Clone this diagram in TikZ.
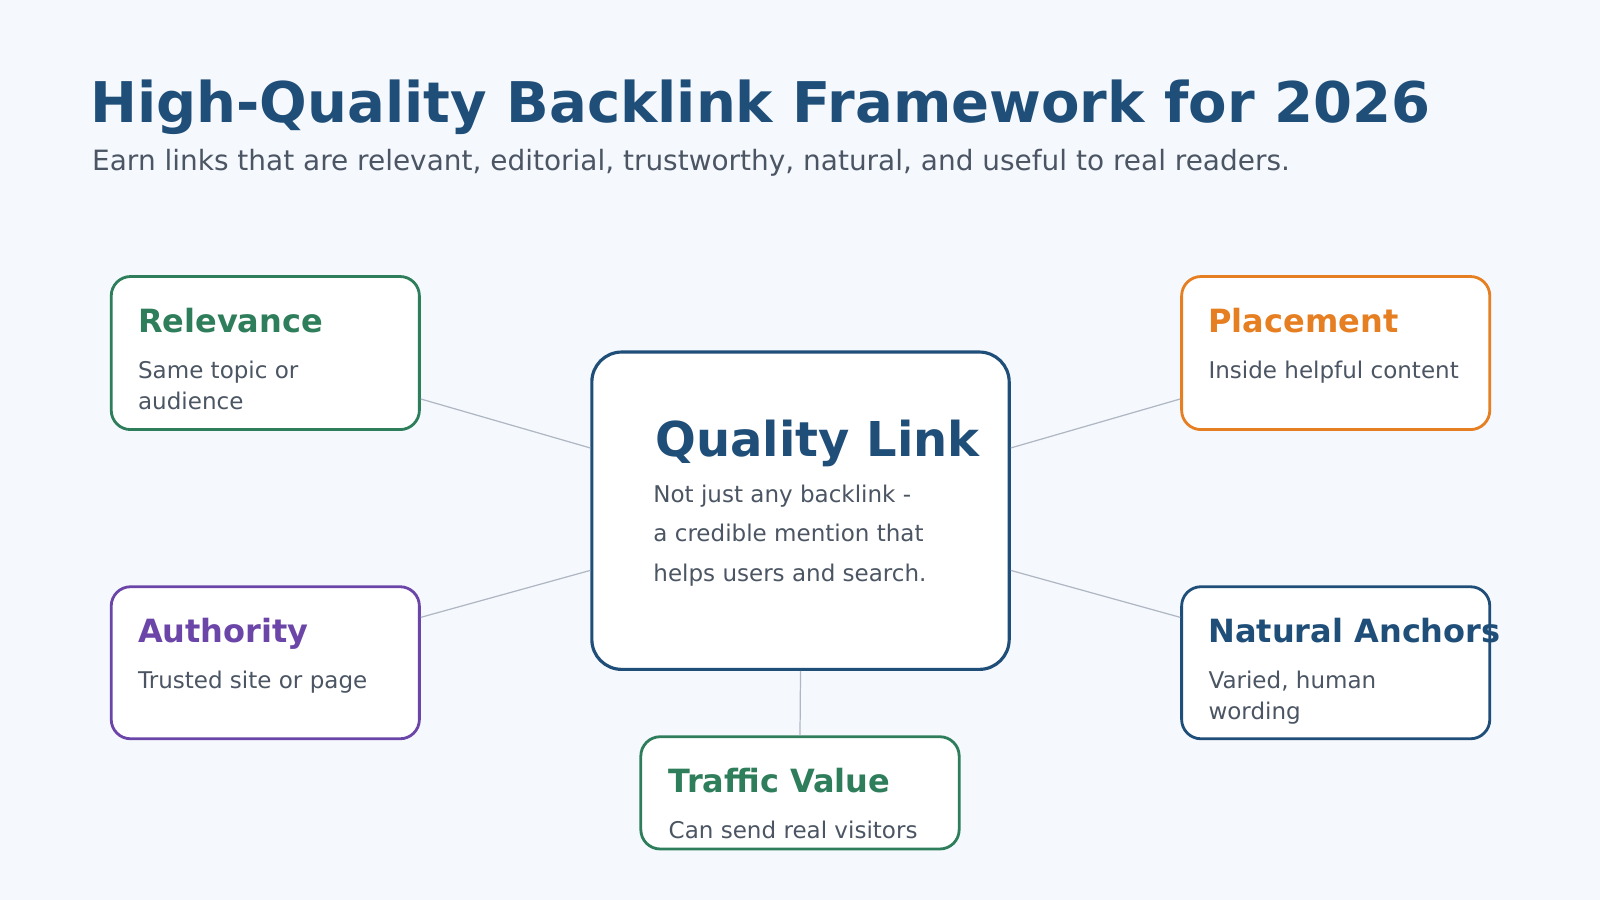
\documentclass[tikz,border=0pt]{standalone}
\usepackage{fontspec}
\setmainfont{DejaVu Sans}
\usetikzlibrary{calc}
\definecolor{bgc}{HTML}{F5F9FE}
\definecolor{navy}{HTML}{1F4E79}
\definecolor{grn}{HTML}{2E7D5B}
\definecolor{org}{HTML}{E67E22}
\definecolor{prp}{HTML}{6B46A8}
\definecolor{txt}{HTML}{4B5563}
\definecolor{lnk}{HTML}{B0B7C3}
\tikzset{
  card/.style={draw=#1, line width=1.6pt, fill=white, rounded corners=11pt, inner sep=0pt},
  head/.style={anchor=base west, font=\fontsize{18.2}{22}\selectfont\bfseries, text=#1, inner sep=0pt},
  desc/.style={anchor=base west, font=\fontsize{13.1}{16}\selectfont, text=txt, inner sep=0pt},
  link/.style={draw=lnk, line width=0.7pt}
}
\begin{document}
\begin{tikzpicture}[x=0.020408cm,y=-0.020408cm]
\fill[bgc] (0,0) rectangle (1568,882);
\useasboundingbox (0,0) rectangle (1568,882);
\node[anchor=base west, font=\fontsize{31.9}{38}\selectfont\bfseries, text=navy, inner sep=0pt] (title) at (88,120) {High-Quality Backlink Framework for 2026};
\node[anchor=base west, font=\fontsize{15.9}{19}\selectfont, text=txt, inner sep=0pt] (sub) at (90,167) {Earn links that are relevant, editorial, trustworthy, natural, and useful to real readers.};
% cards
\node[card=navy, line width=1.8pt, rounded corners=17pt, minimum width=409*0.020408cm, minimum height=311*0.020408cm] (core) at (784.5,500.5) {};
\node[card=grn, minimum width=302*0.020408cm, minimum height=150*0.020408cm] (rel) at (260,346) {};
\node[card=org, minimum width=302*0.020408cm, minimum height=150*0.020408cm] (plc) at (1309,346) {};
\node[card=prp, minimum width=302*0.020408cm, minimum height=149*0.020408cm] (aut) at (260,649.5) {};
\node[card=navy, minimum width=302*0.020408cm, minimum height=149*0.020408cm] (nat) at (1309,649.5) {};
\node[card=grn, minimum width=312*0.020408cm, minimum height=110*0.020408cm] (trf) at (784,777) {};
% connectors
\draw[link] ($(rel.east)+(0,45)$) -- ($(core.west)+(0,-61.5)$);
\draw[link] ($(core.east)+(0,-61.5)$) -- ($(plc.west)+(0,45)$);
\draw[link] ($(aut.east)+(0,-44.5)$) -- ($(core.west)+(0,58.5)$);
\draw[link] ($(core.east)+(0,58.5)$) -- ($(nat.west)+(0,-44.5)$);
\draw[link] (core.south) -- (trf.north);
% texts
\node[anchor=base west, font=\fontsize{27.3}{32}\selectfont\bfseries, text=navy, inner sep=0pt] (coreh) at (642,447) {Quality Link};
\node[desc] (cored1) at (640,492) {Not just any backlink -};
\node[desc] (cored2) at (640,531) {a credible mention that};
\node[desc] (cored3) at (640,570) {helps users and search.};
\node[head=grn] (relh) at (135,326) {Relevance};
\node[desc] (reld1) at (135,371) {Same topic or};
\node[desc] (reld2) at (135,401) {audience};
\node[head=org] (plch) at (1184,326) {Placement};
\node[desc] (plcd) at (1184,371) {Inside helpful content};
\node[head=prp] (auth) at (135,630) {Authority};
\node[desc] (autd) at (135,675) {Trusted site or page};
\node[head=navy] (nath) at (1184,630) {Natural Anchors};
\node[desc] (natd1) at (1184,675) {Varied, human};
\node[desc] (natd2) at (1184,705) {wording};
\node[head=grn] (trfh) at (655,777) {Traffic Value};
\node[desc] (trfd) at (655,822) {Can send real visitors};
\end{tikzpicture}
\end{document}
